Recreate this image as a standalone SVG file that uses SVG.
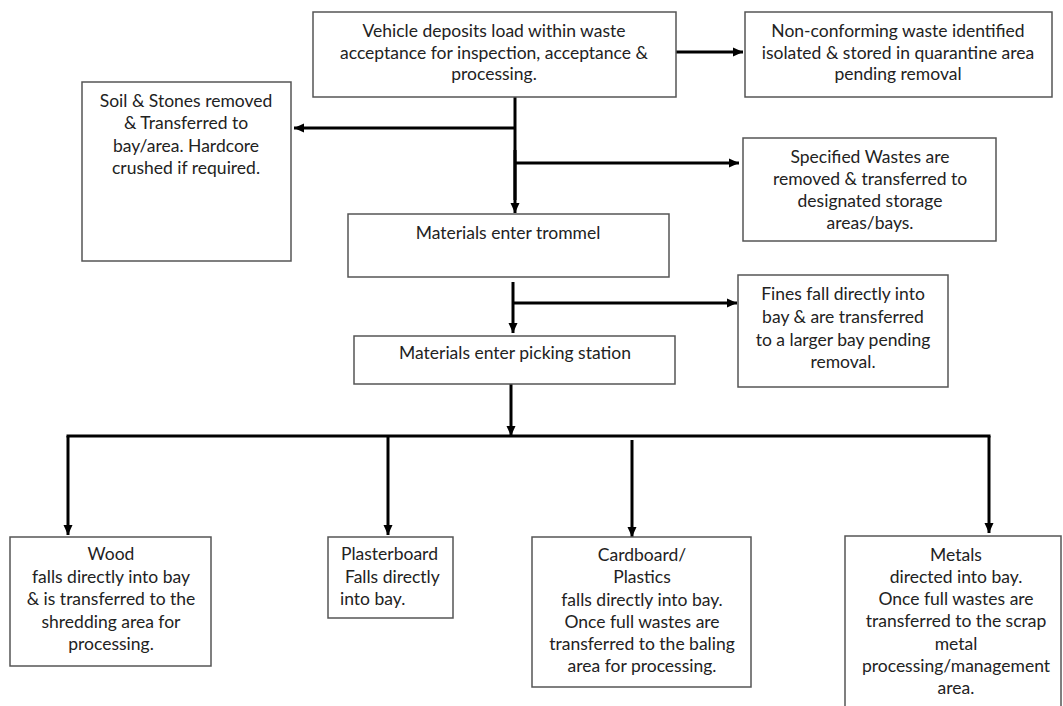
<svg xmlns="http://www.w3.org/2000/svg" width="1063" height="706" viewBox="0 0 1063 706">
<defs>
<marker id="ah" markerUnits="userSpaceOnUse" markerWidth="10" markerHeight="10" viewBox="0 0 10 10" refX="10" refY="5" orient="auto">
<path d="M0,0.5 L10,5 L0,9.5 Z" fill="#000"/>
</marker>
<style>
.box{fill:#fff;stroke:#555;stroke-width:1.5}
.t{font-family:Lato,"Open Sans",sans-serif;font-size:17.5px;fill:#222;text-anchor:middle}
.tl{font-family:Lato,"Open Sans",sans-serif;font-size:17.5px;fill:#222;text-anchor:start}
.c{fill:none;stroke:#000;stroke-width:3}
.ca{fill:none;stroke:#000;stroke-width:3;marker-end:url(#ah)}
</style>
</defs>
<rect width="1063" height="706" fill="#fff"/>
<g id="connectors">
<line class="ca" x1="676" y1="52" x2="743" y2="52"/>
<line class="c" x1="515" y1="97" x2="515" y2="200"/>
<line class="ca" x1="515" y1="128" x2="294" y2="128"/>
<line class="ca" x1="515" y1="163" x2="739" y2="163"/>
<line class="ca" x1="515" y1="150" x2="515" y2="213"/>
<line class="ca" x1="513" y1="282" x2="513" y2="333"/>
<line class="ca" x1="513" y1="303" x2="737" y2="303"/>
<line class="ca" x1="511" y1="384" x2="511" y2="436"/>
<line class="c" x1="66.5" y1="436" x2="990.5" y2="436"/>
<line class="ca" x1="68" y1="436" x2="68" y2="535"/>
<line class="ca" x1="388" y1="436" x2="388" y2="535"/>
<line class="ca" x1="632" y1="440" x2="632" y2="537"/>
<line class="ca" x1="989" y1="436" x2="989" y2="533"/>
</g>
<g id="n-vehicle">
<rect class="box" x="313" y="12" width="363" height="85"/>
<text class="t" x="494" y="37">Vehicle deposits load within waste</text>
<text class="t" x="494" y="58.5">acceptance for inspection, acceptance &amp;</text>
<text class="t" x="494" y="80">processing.</text>
</g>
<g id="n-nonconforming">
<rect class="box" x="745" y="12" width="307" height="85"/>
<text class="t" x="898" y="37">Non-conforming waste identified</text>
<text class="t" x="898" y="58.5">isolated &amp; stored in quarantine area</text>
<text class="t" x="898" y="80">pending removal</text>
</g>
<g id="n-soil">
<rect class="box" x="82" y="82" width="209" height="179"/>
<text class="t" x="186" y="107">Soil &amp; Stones removed</text>
<text class="t" x="186" y="129">&amp; Transferred to</text>
<text class="t" x="186" y="151.5">bay/area. Hardcore</text>
<text class="t" x="186" y="173.5">crushed if required.</text>
</g>
<g id="n-specified">
<rect class="box" x="743" y="138" width="253" height="103"/>
<text class="t" x="870" y="163">Specified Wastes are</text>
<text class="t" x="870" y="185">removed &amp; transferred to</text>
<text class="t" x="870" y="207">designated storage</text>
<text class="t" x="870" y="229">areas/bays.</text>
</g>
<g id="n-trommel">
<rect class="box" x="348" y="214" width="321" height="63"/>
<text class="t" x="508" y="239">Materials enter trommel</text>
</g>
<g id="n-fines">
<rect class="box" x="738" y="275" width="210" height="112"/>
<text class="t" x="843" y="300">Fines fall directly into</text>
<text class="t" x="843" y="323">bay &amp; are transferred</text>
<text class="t" x="843" y="346">to a larger bay pending</text>
<text class="t" x="843" y="368">removal.</text>
</g>
<g id="n-picking">
<rect class="box" x="354" y="336" width="321" height="48"/>
<text class="t" x="515" y="359">Materials enter picking station</text>
</g>
<g id="n-wood">
<rect class="box" x="10" y="537" width="201" height="129"/>
<text class="t" x="111" y="560">Wood</text>
<text class="t" x="111" y="582.5">falls directly into bay</text>
<text class="t" x="111" y="605">&amp; is transferred to the</text>
<text class="t" x="111" y="627.5">shredding area for</text>
<text class="t" x="111" y="650">processing.</text>
</g>
<g id="n-plasterboard">
<rect class="box" x="328" y="537" width="125" height="81"/>
<text class="tl" x="341" y="560">Plasterboard</text>
<text class="tl" x="345" y="582.5">Falls directly</text>
<text class="tl" x="340" y="605">into bay.</text>
</g>
<g id="n-cardboard">
<rect class="box" x="532" y="537" width="219" height="150"/>
<text class="t" x="642" y="561">Cardboard/</text>
<text class="t" x="642" y="583">Plastics</text>
<text class="t" x="642" y="605.5">falls directly into bay.</text>
<text class="t" x="642" y="627.5">Once full wastes are</text>
<text class="t" x="642" y="650">transferred to the baling</text>
<text class="t" x="642" y="672">area for processing.</text>
</g>
<g id="n-metals">
<rect class="box" x="845" y="536" width="216" height="180"/>
<text class="t" x="956" y="561">Metals</text>
<text class="t" x="956" y="583">directed into bay.</text>
<text class="t" x="956" y="605">Once full wastes are</text>
<text class="t" x="956" y="627">transferred to the scrap</text>
<text class="t" x="956" y="650">metal</text>
<text class="t" x="956" y="672">processing/management</text>
<text class="t" x="956" y="694">area.</text>
</g>
</svg>
